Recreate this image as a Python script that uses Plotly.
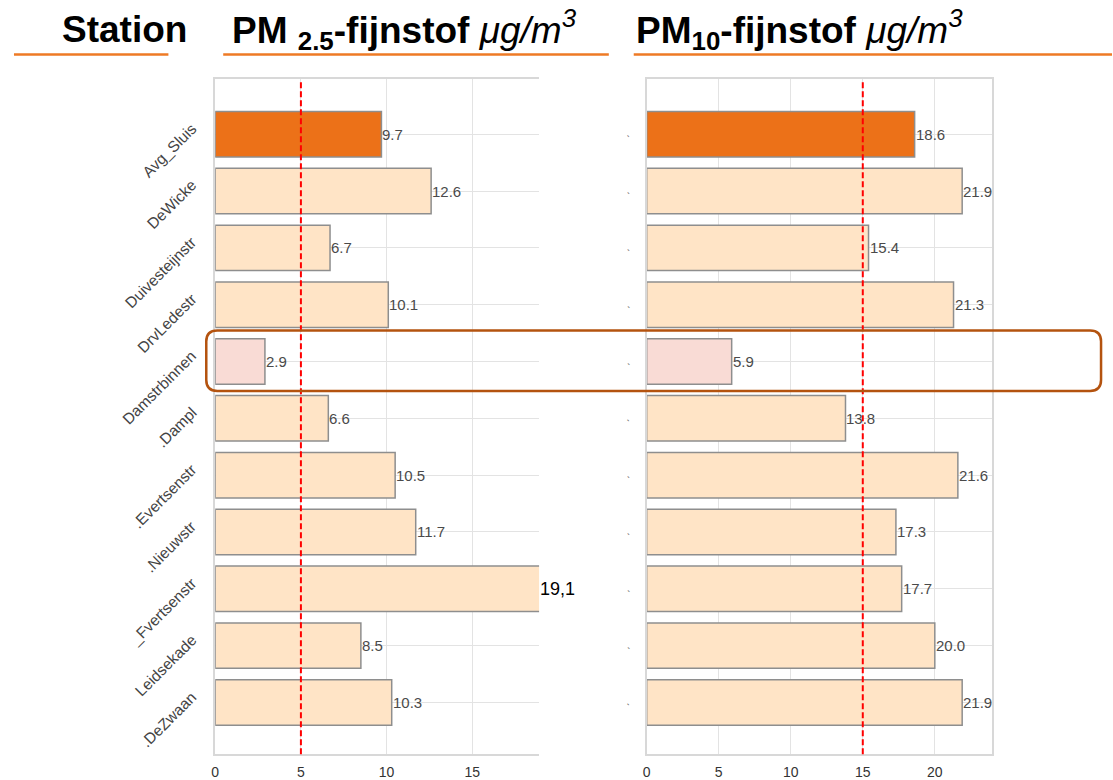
import plotly.graph_objects as go

W, H = 1113, 780

stations = ["Avg_Sluis", "DeWicke", "Duivesteijnstr", "DrvLedestr", "Damstrbinnen",
            ".Dampl", ".Evertsenstr", ".Nieuwstr", "_Fvertsenstr", "Leidsekade", ".DeZwaan"]
pm25 = [9.7, 12.6, 6.7, 10.1, 2.9, 6.6, 10.5, 11.7, 19.1, 8.5, 10.3]
pm10 = [18.6, 21.9, 15.4, 21.3, 5.9, 13.8, 21.6, 17.3, 17.7, 20.0, 21.9]
pm25_limit = 5
pm10_limit = 15
x_ticks_pm25 = [0, 5, 10, 15]
x_ticks_pm10 = [0, 5, 10, 15, 20]

ORANGE = "#EC7118"
BISQUE = "#FFE4C6"
PINK = "#F9DBD5"
EDGE = "#8E8E8E"
GRID = "#E3E3E3"
LINE_ORANGE = "#EE7A25"
HILITE = "#B4530F"
FONT = "Liberation Sans, Arial"

colors = [ORANGE if s == "Avg_Sluis" else PINK if s == "Damstrbinnen" else BISQUE for s in stations]

def px(x):
    return x / W

def py(y):
    return 1 - y / H

fig = go.Figure()
fig.add_trace(go.Bar(x=pm25, y=stations, orientation="h", width=0.8,
                     marker=dict(color=colors, line=dict(color=EDGE, width=1.5)),
                     xaxis="x", yaxis="y", showlegend=False, hoverinfo="x+y"))
fig.add_trace(go.Bar(x=pm10, y=stations, orientation="h", width=0.8,
                     marker=dict(color=colors, line=dict(color=EDGE, width=1.5)),
                     xaxis="x2", yaxis="y2", showlegend=False, hoverinfo="x+y"))

xmax1, xmax2 = 18.9, 24.0
ydom = [py(760), py(80)]
yrange = [10.91, -0.965]

axis_common = dict(showgrid=True, gridcolor=GRID, gridwidth=1.2, zeroline=False,
                   showline=True, linecolor="#D8D8D8", linewidth=1.5, ticks="",
                   tickfont=dict(family=FONT, size=14, color="#333333"))

fig.update_layout(
    width=W, height=H, margin=dict(l=0, r=0, t=0, b=0),
    paper_bgcolor="white", plot_bgcolor="white", bargap=0.2,
    xaxis=dict(domain=[px(212), px(537)], range=[0, xmax1], tickvals=x_ticks_pm25,
               anchor="y", mirror=True, ticklabelstandoff=4, **axis_common),
    yaxis=dict(domain=ydom, range=yrange, type="category", categoryarray=stations,
               anchor="x", showticklabels=False, **axis_common),
    xaxis2=dict(domain=[px(645), px(992)], range=[0, xmax2], tickvals=x_ticks_pm10,
                anchor="y2", mirror=True, ticklabelstandoff=4, **axis_common),
    yaxis2=dict(domain=ydom, range=yrange, type="category", categoryarray=stations,
                anchor="x2", mirror=True, showticklabels=False, **axis_common),
)

annotations = []
# value labels
for xref, yref, vals, xmax in [("x", "y", pm25, xmax1), ("x2", "y2", pm10, xmax2)]:
    for s, v in zip(stations, vals):
        if v <= xmax:
            annotations.append(dict(x=v, y=s, xref=xref, yref=yref, text=f"{v:.1f}",
                                    showarrow=False, xanchor="left", xshift=-1,
                                    font=dict(family=FONT, size=15, color="#4A4A4A")))
        else:
            annotations.append(dict(x=1, y=s, xref=f"{xref} domain", yref=yref,
                                    text=f"{v:.1f}".replace(".", ","),
                                    showarrow=False, xanchor="left", xshift=-1,
                                    font=dict(family=FONT, size=18, color="#000000")))
# rotated station labels (left) and clipped label stubs (right)
for s in stations:
    annotations.append(dict(x=px(199), y=s, xref="paper", yref="y", text=s, textangle=-45,
                            showarrow=False, xanchor="right", yanchor="top", yshift=17,
                            font=dict(family=FONT, size=15.5, color="#444444")))
    annotations.append(dict(x=px(632), y=s, xref="paper", yref="y2", text=",", textangle=-45,
                            showarrow=False, xanchor="right", yanchor="middle", yshift=0,
                            font=dict(family=FONT, size=9, color="#555555")))

hfont = dict(family=FONT, size=37, color="#000000")
annotations.append(dict(x=px(121), y=py(30), xref="paper", yref="paper", text="<b>Station</b>",
                        showarrow=False, xanchor="center", yanchor="middle", font=hfont))
annotations.append(dict(x=px(227), y=py(30), xref="paper", yref="paper",
                        text="<b>PM <sub>2.5</sub>-fijnstof</b> <i>μg/m<sup>3</sup></i>",
                        showarrow=False, xanchor="left", yanchor="middle", font=hfont))
annotations.append(dict(x=px(632), y=py(30), xref="paper", yref="paper",
                        text="<b>PM<sub>10</sub>-fijnstof</b> <i>μg/m<sup>3</sup></i>",
                        showarrow=False, xanchor="left", yanchor="middle", font=hfont))
fig.update_layout(annotations=annotations)

shapes = []
for x0, x1 in [(10, 165), (220, 607), (632, 1112)]:
    shapes.append(dict(type="line", xref="paper", yref="paper", x0=px(x0), x1=px(x1),
                       y0=py(55), y1=py(55), line=dict(color=LINE_ORANGE, width=2.5)))
shapes.append(dict(type="line", xref="x", yref="y domain", x0=pm25_limit, x1=pm25_limit, y0=0, y1=1,
                   line=dict(color="#FF0000", width=2, dash="6px,3px"), layer="above"))
shapes.append(dict(type="line", xref="x2", yref="y2 domain", x0=pm10_limit, x1=pm10_limit, y0=0, y1=1,
                   line=dict(color="#FF0000", width=2, dash="6px,3px"), layer="above"))

# rounded highlight rectangle (page pixel geometry converted to paper)
L, R, T, B, r = 203, 1101, 333, 394, 11
def P(x, y):
    return f"{px(x):.5f},{py(y):.5f}"
path = (f"M {P(L + r, T)} L {P(R - r, T)} Q {P(R, T)} {P(R, T + r)} "
        f"L {P(R, B - r)} Q {P(R, B)} {P(R - r, B)} "
        f"L {P(L + r, B)} Q {P(L, B)} {P(L, B - r)} "
        f"L {P(L, T + r)} Q {P(L, T)} {P(L + r, T)} Z")
shapes.append(dict(type="path", xref="paper", yref="paper", path=path,
                   line=dict(color=HILITE, width=2.5), layer="above"))
fig.update_layout(shapes=shapes)

fig.write_html("out.html", config={"displayModeBar": False},
               post_script="document.body.style.margin='0px';document.body.style.overflow='hidden';")
